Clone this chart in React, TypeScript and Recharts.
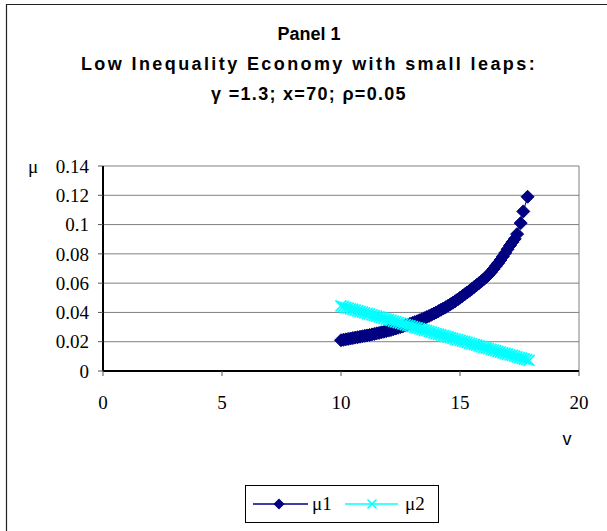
import React from "react";
import { ScatterChart, Scatter, XAxis, YAxis, CartesianGrid, ReferenceLine, Legend } from "recharts";

// axis ticks
const vTicks = [0, 5, 10, 15, 20];
const muTicks = [0, 0.02, 0.04, 0.06, 0.08, 0.1, 0.12, 0.14];

// mu1 against v
const v1 = [
  10.0, 10.1, 10.2, 10.3, 10.4, 10.5, 10.6, 10.7, 10.8, 10.9,
  11.0, 11.1, 11.2, 11.3, 11.4, 11.5, 11.6, 11.7, 11.8, 11.9,
  12.0, 12.1, 12.2, 12.3, 12.4, 12.5, 12.6, 12.7, 12.8, 12.9,
  13.0, 13.1, 13.2, 13.3, 13.4, 13.5, 13.6, 13.7, 13.8, 13.9,
  14.0, 14.1, 14.2, 14.3, 14.4, 14.5, 14.6, 14.7, 14.8, 14.9,
  15.0, 15.1, 15.2, 15.3, 15.4, 15.5, 15.6, 15.7, 15.8, 15.9,
  16.0, 16.1, 16.2, 16.3, 16.4, 16.5, 16.6, 16.7, 16.8, 16.9,
  17.0, 17.1, 17.2, 17.3, 17.4, 17.55, 17.66, 17.84,
];
const mu1 = [
  0.021, 0.0213, 0.0216, 0.0219, 0.0222, 0.0225, 0.0228, 0.0231, 0.0234, 0.0237,
  0.024, 0.0243, 0.0246, 0.025, 0.0253, 0.0257, 0.026, 0.0264, 0.0268, 0.0272,
  0.0276, 0.028, 0.0285, 0.029, 0.0295, 0.03, 0.0305, 0.031, 0.0316, 0.0322,
  0.0328, 0.0334, 0.034, 0.0347, 0.0354, 0.0361, 0.0368, 0.0376, 0.0384, 0.0392,
  0.04, 0.0409, 0.0418, 0.0427, 0.0436, 0.0446, 0.0456, 0.0466, 0.0477, 0.0488,
  0.05, 0.0512, 0.0524, 0.0536, 0.0548, 0.0561, 0.0574, 0.0587, 0.06, 0.0613,
  0.0627, 0.0641, 0.0657, 0.0675, 0.0695, 0.0716, 0.0736, 0.0758, 0.0782, 0.0806,
  0.0832, 0.0857, 0.088, 0.0902, 0.0935, 0.101, 0.109, 0.119,
];

// mu2 against v
const v2 = [
  10.0, 10.1, 10.2, 10.3, 10.4, 10.5, 10.6, 10.7, 10.8, 10.9,
  11.0, 11.1, 11.2, 11.3, 11.4, 11.5, 11.6, 11.7, 11.8, 11.9,
  12.0, 12.1, 12.2, 12.3, 12.4, 12.5, 12.6, 12.7, 12.8, 12.9,
  13.0, 13.1, 13.2, 13.3, 13.4, 13.5, 13.6, 13.7, 13.8, 13.9,
  14.0, 14.1, 14.2, 14.3, 14.4, 14.5, 14.6, 14.7, 14.8, 14.9,
  15.0, 15.1, 15.2, 15.3, 15.4, 15.5, 15.6, 15.7, 15.8, 15.9,
  16.0, 16.1, 16.2, 16.3, 16.4, 16.5, 16.6, 16.7, 16.8, 16.9,
  17.0, 17.1, 17.2, 17.3, 17.4, 17.5, 17.6, 17.7, 17.8, 17.9,
];
const mu2 = [
  0.0444, 0.0439, 0.0435, 0.043, 0.0425, 0.0421, 0.0416, 0.0411, 0.0406, 0.0402,
  0.0397, 0.0392, 0.0388, 0.0383, 0.0378, 0.0374, 0.0369, 0.0364, 0.0359, 0.0355,
  0.035, 0.0345, 0.0341, 0.0336, 0.0331, 0.0327, 0.0322, 0.0317, 0.0312, 0.0308,
  0.0303, 0.0298, 0.0294, 0.0289, 0.0284, 0.028, 0.0275, 0.027, 0.0265, 0.0261,
  0.0256, 0.0251, 0.0247, 0.0242, 0.0237, 0.0233, 0.0228, 0.0223, 0.0218, 0.0214,
  0.0209, 0.0204, 0.02, 0.0195, 0.019, 0.0186, 0.0181, 0.0176, 0.0171, 0.0167,
  0.0162, 0.0157, 0.0153, 0.0148, 0.0143, 0.0139, 0.0134, 0.0129, 0.0124, 0.012,
  0.0115, 0.011, 0.0106, 0.0101, 0.0096, 0.0092, 0.0087, 0.0082, 0.0077, 0.0073,
];

const NAVY = "#000080";
const CYAN = "#00FFFF";
const SERIF = "'Liberation Serif', 'Times New Roman', serif";
const SANS = "'Liberation Sans', Arial, sans-serif";

const toPoints = (xs: number[], ys: number[]) => xs.map((v, i) => ({ v, mu: ys[i] }));
const series1 = toPoints(v1, mu1);
const series2 = toPoints(v2, mu2);

const diamondPath = (cx: number, cy: number, r: number) =>
  `${cx},${cy - r} ${cx + r},${cy} ${cx},${cy + r} ${cx - r},${cy}`;

const Diamond = ({ cx, cy }: any) => (
  <polygon points={diamondPath(cx, cy, 6.5)} fill={NAVY} stroke={NAVY} strokeWidth={1} />
);

const Cross = ({ cx, cy }: any) => (
  <g stroke={CYAN} strokeWidth={1.8}>
    <line x1={cx - 5.5} y1={cy - 5.5} x2={cx + 5.5} y2={cy + 5.5} />
    <line x1={cx - 5.5} y1={cy + 5.5} x2={cx + 5.5} y2={cy - 5.5} />
  </g>
);

// boxed legend under the plot
const LegendBox = () => (
  <svg width={194} height={38} style={{ display: "block" }}>
    <rect x={0.5} y={0.5} width={193} height={37} fill="#fff" stroke="#000" />
    <line x1={8} y1={19} x2={63} y2={19} stroke={NAVY} strokeWidth={1.5} />
    <polygon points={diamondPath(34, 19, 5.5)} fill={NAVY} />
    <text x={67} y={25} fontFamily={SERIF} fontSize={19} fill="#000">μ1</text>
    <line x1={100} y1={19} x2={153} y2={19} stroke={CYAN} strokeWidth={1.5} />
    <g stroke={CYAN} strokeWidth={1.6}>
      <line x1={122.5} y1={14.5} x2={131.5} y2={23.5} />
      <line x1={122.5} y1={23.5} x2={131.5} y2={14.5} />
    </g>
    <text x={160} y={25} fontFamily={SERIF} fontSize={19} fill="#000">μ2</text>
  </svg>
);

const tickStyle = { fill: "#000", fontSize: 19, fontFamily: SERIF };

export default function App() {
  return (
    <div style={{ position: "absolute", left: 0, top: 0, width: 607, height: 531, background: "#fff" }}>
      <ScatterChart width={607} height={531} margin={{ top: 166, right: 28, bottom: 125, left: 43 }}>
        <CartesianGrid vertical={false} stroke="#808080" />
        <XAxis
          type="number"
          dataKey="v"
          domain={[0, 20]}
          ticks={vTicks}
          height={35}
          tickSize={5}
          tickMargin={20}
          tick={tickStyle}
          axisLine={{ stroke: "#000", strokeWidth: 2 }}
          tickLine={{ stroke: "#555" }}
        />
        <YAxis
          type="number"
          dataKey="mu"
          domain={[0, 0.14]}
          ticks={muTicks}
          width={60}
          tickSize={5}
          tickMargin={9}
          tick={tickStyle}
          tickFormatter={(t: number) => String(t)}
          axisLine={{ stroke: "#000", strokeWidth: 2 }}
          tickLine={{ stroke: "#555" }}
        />
        <ReferenceLine x={20} stroke="#808080" />
        <Scatter
          name="μ1"
          data={series1}
          fill={NAVY}
          line={{ stroke: NAVY, strokeWidth: 1 }}
          shape={Diamond}
          isAnimationActive={false}
        />
        <Scatter
          name="μ2"
          data={series2}
          fill={CYAN}
          line={{ stroke: CYAN, strokeWidth: 1 }}
          shape={Cross}
          isAnimationActive={false}
        />
        <Legend
          verticalAlign="middle"
          align="center"
          content={() => <LegendBox />}
          wrapperStyle={{ position: "absolute", left: 245, top: 485, width: 194, height: 38 }}
        />
      </ScatterChart>

      <svg
        width={607}
        height={531}
        style={{ position: "absolute", left: 0, top: 0, pointerEvents: "none" }}
      >
        <path d="M6.5,531 V4.5 H607" fill="none" stroke="#222" strokeWidth={1.2} />
        <g fontFamily={SANS} fontWeight="bold" fontSize={18} fill="#000" textAnchor="middle">
          <text x={309} y={40}>Panel 1</text>
          <text x={309} y={70} letterSpacing={2.4}>Low Inequality Economy with small leaps:</text>
          <text x={309} y={100} letterSpacing={1.3}>γ =1.3; x=70; ρ=0.05</text>
        </g>
        <text x={28} y={173} fontFamily={SERIF} fontSize={19} fill="#000">μ</text>
        <text x={567} y={445} fontFamily={SANS} fontSize={18} fill="#000" textAnchor="middle">v</text>
      </svg>
    </div>
  );
}
